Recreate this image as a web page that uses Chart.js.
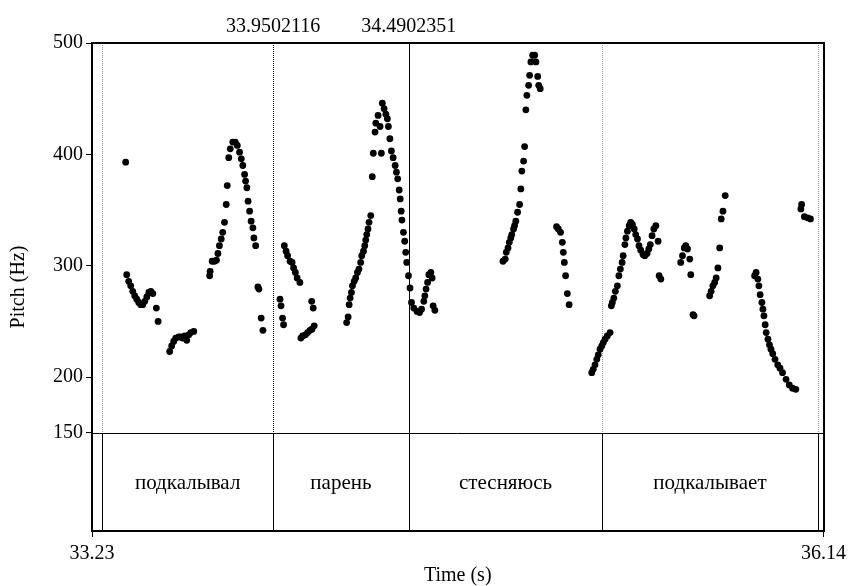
<!DOCTYPE html>
<html>
<head>
<meta charset="utf-8">
<script src="https://cdn.jsdelivr.net/npm/chart.js@4"></script>
<style>
  html, body { margin: 0; padding: 0; background: #fff; }
  #wrap { width: 851px; height: 586px; }
</style>
</head>
<body>
<div id="wrap"><canvas id="pitchChart"></canvas></div>
<script>
// pitch points, one pair of arrays per word (time in s, pitch in Hz)
const podkalyvalTimes = [33.364, 33.368, 33.376, 33.384, 33.392, 33.400, 33.408, 33.416, 33.424, 33.432, 33.440, 33.448, 33.456, 33.464, 33.472, 33.486, 33.493,
  33.539, 33.547, 33.555, 33.563, 33.575, 33.583, 33.591, 33.599, 33.607, 33.615, 33.623, 33.635,
  33.698, 33.700, 33.708, 33.717, 33.725, 33.731, 33.737, 33.744, 33.750, 33.757, 33.764, 33.768, 33.774, 33.780, 33.790, 33.800, 33.808, 33.817, 33.824, 33.830, 33.837, 33.841, 33.846, 33.851, 33.857, 33.863, 33.870, 33.874, 33.881, 33.890, 33.894, 33.903, 33.910];
const podkalyvalHz = [393, 292, 286, 282, 277, 273, 270, 267, 265, 265, 268, 272, 276, 277, 275, 262, 250,
  223, 228, 232, 235, 236, 236, 235, 237, 233, 238, 240, 241,
  291, 295, 304, 304, 305, 311, 318, 324, 330, 339, 355, 372, 397, 405, 411, 411, 408, 402, 396, 390, 382, 376, 370, 358, 349, 340, 334, 325, 318, 281, 279, 253, 242];

const parenTimes = [33.978, 33.982, 33.988, 33.992, 33.995, 34.002, 34.008, 34.018, 34.026, 34.032, 34.039, 34.046, 34.057, 34.061, 34.068, 34.079, 34.088, 34.097, 34.105, 34.114, 34.104, 34.110,
  34.243, 34.249, 34.253, 34.257, 34.262, 34.266, 34.273, 34.279, 34.286, 34.292, 34.299, 34.303, 34.310, 34.315, 34.319, 34.323, 34.328, 34.332, 34.339, 34.345, 34.349, 34.356, 34.359, 34.368, 34.376, 34.381, 34.385, 34.392, 34.399, 34.405, 34.409, 34.415, 34.421, 34.428, 34.436, 34.441, 34.446, 34.452, 34.456, 34.460, 34.463, 34.469, 34.474, 34.478, 34.482, 34.489];
const parenHz = [270, 264, 253, 247, 318, 313, 309, 304, 303, 298, 294, 289, 285, 235, 237, 238, 240, 242, 243, 246, 268, 262,
  249, 254, 265, 271, 276, 282, 286, 289, 294, 297, 303, 309, 313, 318, 323, 328, 333, 339, 345, 380, 401, 420, 428, 435, 425, 401, 446, 441, 436, 432, 425, 414, 403, 397, 390, 384, 378, 368, 360, 349, 341, 330, 322, 312, 303, 291];

const stesnyayusTimes = [34.495, 34.501, 34.510, 34.523, 34.533, 34.541, 34.550, 34.554, 34.559, 34.565, 34.570, 34.578, 34.583, 34.587, 34.594,
  34.865, 34.874, 34.878, 34.885, 34.890, 34.896, 34.900, 34.907, 34.911, 34.916, 34.923, 34.931, 34.936, 34.940, 34.947, 34.951, 34.956, 34.960, 34.967, 34.971, 34.976, 34.983, 34.991, 34.996, 35.003, 35.007, 35.013,
  35.078, 35.085, 35.094, 35.101, 35.105, 35.109, 35.114, 35.121, 35.128,
  35.218, 35.224, 35.231, 35.238, 35.244, 35.251, 35.258];
const stesnyayusHz = [280, 267, 262, 259, 258, 261, 268, 273, 279, 285, 292, 294, 289, 264, 260,
  304, 306, 312, 316, 321, 325, 328, 333, 336, 340, 348, 355, 369, 385, 394, 407, 440, 453, 462, 471, 483, 489, 489, 483, 470, 462, 459,
  335, 333, 330, 321, 312, 303, 291, 275, 265,
  204, 207, 211, 216, 220, 225, 228];

const podkalyvaetTimes = [35.264, 35.271, 35.280, 35.291,
  35.296, 35.300, 35.306, 35.312, 35.320, 35.326, 35.332, 35.339, 35.343, 35.350, 35.354, 35.360, 35.367, 35.373, 35.380, 35.387, 35.393, 35.400, 35.406, 35.413, 35.422, 35.429, 35.438, 35.445, 35.451, 35.458, 35.465, 35.473, 35.482, 35.486, 35.493,
  35.572, 35.579, 35.586, 35.592, 35.599, 35.608, 35.612, 35.621, 35.625,
  35.687, 35.693, 35.700, 35.707, 35.713, 35.720, 35.727, 35.733, 35.740, 35.749,
  35.866, 35.872, 35.879, 35.883, 35.888, 35.895, 35.899, 35.903, 35.908, 35.912, 35.919, 35.925, 35.931, 35.938, 35.947, 35.958, 35.967, 35.977, 35.991, 36.004, 36.017, 36.030,
  36.050, 36.053, 36.064, 36.077, 36.088];
const podkalyvaetHz = [231, 234, 237, 240,
  264, 267, 271, 277, 282, 291, 297, 303, 309, 319, 325, 331, 336, 339, 337, 333, 328, 324, 318, 314, 310, 309, 311, 315, 319, 327, 333, 336, 322, 291, 288,
  303, 309, 316, 318, 315, 306, 292, 256, 255,
  273, 277, 282, 285, 289, 298, 316, 342, 349, 363,
  291, 294, 288, 282, 274, 267, 261, 255, 247, 240, 234, 229, 225, 221, 216, 211, 208, 204, 198, 193, 190, 189,
  351, 355, 344, 343, 342];

// textgrid tier
const boundaries = [33.2708, 33.9502116, 34.4902351, 35.260, 36.1166];
const words = ['подкалывал', 'парень', 'стесняюсь', 'подкалывает'];

// axes
const timeMin = 33.23, timeMax = 36.14;
const timeTicks = [33.23, 36.14];
const markTimes = [33.9502116, 34.4902351];
const pitchTicks = [150, 200, 300, 400, 500];
const pitchFloor = 150, pitchMax = 500, tierBottom = 61.8;

function toPoints(ts, hz) { return ts.map((t, i) => ({x: t, y: hz[i]})); }
const allPoints = [].concat(
  toPoints(podkalyvalTimes, podkalyvalHz),
  toPoints(parenTimes, parenHz),
  toPoints(stesnyayusTimes, stesnyayusHz),
  toPoints(podkalyvaetTimes, podkalyvaetHz)
);

const FONT = "'Liberation Serif', 'Times New Roman', serif";
Chart.defaults.font.family = FONT;
Chart.defaults.font.size = 20;
Chart.defaults.color = '#000';

function px(v) { return Math.round(v) + 0.5; }

const textgridPlugin = {
  id: 'textgrid',
  beforeDatasetsDraw(chart) {
    const {ctx, chartArea: a, scales: {x, y}} = chart;
    const yFloor = y.getPixelForValue(pitchFloor);
    ctx.save();
    ctx.lineWidth = 1;
    boundaries.forEach((b) => {
      const bx = px(x.getPixelForValue(b));
      const isMark = markTimes.includes(b);
      ctx.strokeStyle = isMark ? '#000' : '#999';
      // first mark dotted dark, second solid, the rest light dotted
      ctx.setLineDash(b === markTimes[1] ? [] : [1, 1]);
      ctx.beginPath();
      ctx.moveTo(bx, a.top);
      ctx.lineTo(bx, yFloor);
      ctx.stroke();
    });
    ctx.restore();
  },
  afterDatasetsDraw(chart) {
    const {ctx, chartArea: a, scales: {x, y}} = chart;
    const yFloor = px(y.getPixelForValue(pitchFloor));
    ctx.save();
    ctx.strokeStyle = '#000';
    ctx.setLineDash([]);
    // tier boundaries
    ctx.lineWidth = 1;
    boundaries.forEach((b) => {
      const bx = px(x.getPixelForValue(b));
      ctx.beginPath();
      ctx.moveTo(bx, yFloor);
      ctx.lineTo(bx, a.bottom);
      ctx.stroke();
    });
    ctx.beginPath();
    ctx.moveTo(a.left, yFloor);
    ctx.lineTo(a.right, yFloor);
    ctx.stroke();
    // outer box
    ctx.lineWidth = 2;
    ctx.strokeRect(Math.round(a.left), Math.round(a.top), Math.round(a.right - a.left), Math.round(a.bottom - a.top));
    // interval labels
    ctx.fillStyle = '#000';
    ctx.font = '21px ' + FONT;
    ctx.textAlign = 'center';
    ctx.textBaseline = 'middle';
    const yText = (y.getPixelForValue(pitchFloor) + a.bottom) / 2 + 2;
    for (let i = 0; i < words.length; i++) {
      const mid = (x.getPixelForValue(boundaries[i]) + x.getPixelForValue(boundaries[i + 1])) / 2;
      ctx.fillText(words[i], mid, yText);
    }
    ctx.restore();
  }
};

new Chart(document.getElementById('pitchChart'), {
  type: 'scatter',
  data: {
    datasets: [{
      data: allPoints,
      backgroundColor: '#000',
      borderWidth: 0,
      pointRadius: 3.4,
      pointHoverRadius: 3.4
    }]
  },
  options: {
    responsive: true,
    maintainAspectRatio: false,
    animation: false,
    layout: {padding: {left: 0, right: 25, top: 0, bottom: 0}},
    plugins: {legend: {display: false}, tooltip: {enabled: false}},
    scales: {
      x: {
        type: 'linear', position: 'bottom', min: timeMin, max: timeMax,
        afterBuildTicks: (s) => { s.ticks = timeTicks.map(v => ({value: v})); },
        afterFit: (s) => { s.height = 55; },
        ticks: {autoSkip: false, maxRotation: 0, padding: 5, callback: (v) => String(v)},
        grid: {drawOnChartArea: false, color: '#000', tickLength: 6, lineWidth: 1},
        border: {display: false},
        title: {display: true, text: 'Time (s)', font: {lineHeight: 1.0}, padding: {top: 0, bottom: 0}}
      },
      x2: {
        type: 'linear', position: 'top', min: timeMin, max: timeMax,
        afterBuildTicks: (s) => { s.ticks = markTimes.map(v => ({value: v})); },
        afterFit: (s) => { s.height = 43; },
        ticks: {autoSkip: false, maxRotation: 0, padding: 4, callback: (v) => String(v)},
        grid: {display: false, drawTicks: false},
        border: {display: false}
      },
      y: {
        type: 'linear', min: tierBottom, max: pitchMax,
        afterBuildTicks: (s) => { s.ticks = pitchTicks.map(v => ({value: v})); },
        afterFit: (s) => { s.width = 92; },
        ticks: {autoSkip: false, padding: 3, callback: (v) => String(v)},
        grid: {drawOnChartArea: false, color: '#000', tickLength: 6, lineWidth: 1},
        border: {display: false},
        title: {display: true, text: 'Pitch (Hz)', padding: {top: 7, bottom: 0}}
      }
    }
  },
  plugins: [textgridPlugin]
});
</script>
</body>
</html>
